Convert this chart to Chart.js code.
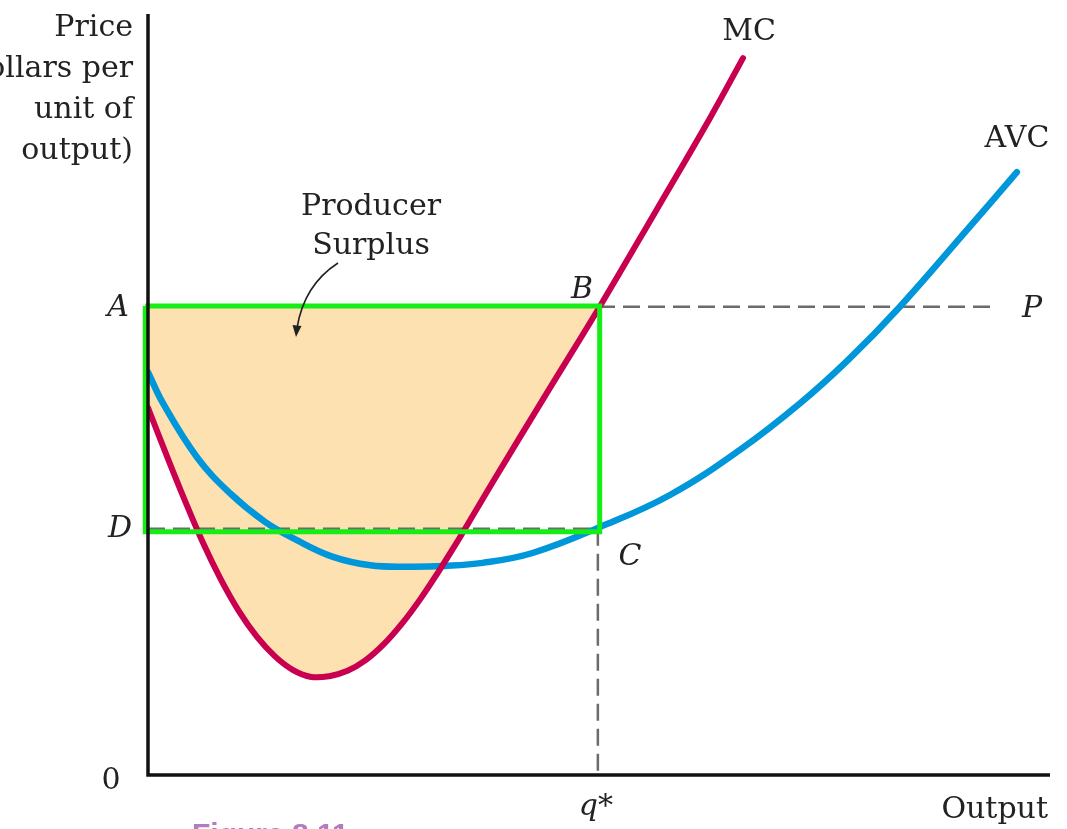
<!DOCTYPE html>
<html>
<head>
<meta charset="utf-8">
<script src="https://cdn.jsdelivr.net/npm/chart.js@4.4.0/dist/chart.umd.min.js"></script>
<style>
  body { margin: 0; background: #fff; }
  canvas { display: block; }
</style>
</head>
<body>
<canvas id="surplusChart" width="1067" height="829"></canvas>
<script>
// curve readings (output on x, price on y, both 0..100 scale)
const mcX = [0, 2, 4, 6, 8, 10, 12, 14, 16, 18, 20, 22, 24, 26, 28, 30, 32, 34, 36, 38, 44, 49.8, 56, 62, 65.6];
const mcY = [48.3, 42.2, 36.3, 30.7, 25.8, 21.6, 18.2, 15.6, 13.8, 12.9, 13.0, 13.7, 15.1, 17.2, 19.9, 23.1, 26.7, 30.5, 34.5, 38.5, 50.3, 61.6, 74.2, 86.5, 94.3];

const avcX = [0, 1.65, 5.4, 9.0, 12.9, 16.4, 20.4, 24.5, 28.6, 32.7, 36.9, 42.4, 49.8, 57.5, 65.3, 71.9, 77.2, 82.9, 90.3, 95.8];
const avcY = [53.0, 48.9, 41.8, 37.1, 33.3, 30.9, 28.7, 27.6, 27.4, 27.5, 27.9, 29.2, 32.6, 36.8, 42.8, 48.9, 54.6, 61.6, 71.7, 79.3];

const priceP = 61.6;     // A / B / P level
const priceD = 32.4;     // D / C level
const qStar = 49.6;      // q*
const pLineEnd = 93.6;

// green highlight box drawn over the figure
const boxX = [-0.3, 49.8];
const boxY = [61.7, 32.0];

const xMax = 99.45;
const yMax = 100.1;

const toPoints = (xs, ys) => xs.map((x, i) => ({ x: x, y: ys[i] }));

const mcPoints = toPoints(mcX, mcY);
const avcPoints = toPoints(avcX, avcY);
const surplusPoints = mcPoints.filter(p => p.x <= 49.8);

const serif = '"DejaVu Serif", "Liberation Serif", serif';

function drawText(ctx, text, x, y, opts) {
  ctx.save();
  ctx.font = (opts.style || '') + ' ' + (opts.size || 30) + 'px ' + (opts.family || serif);
  ctx.fillStyle = opts.color || '#222';
  ctx.textAlign = opts.align || 'center';
  ctx.textBaseline = opts.baseline || 'alphabetic';
  ctx.fillText(text, x, y);
  ctx.restore();
}

const figurePlugin = {
  id: 'figureDecor',
  afterDatasetsDraw(chart) {
    const ctx = chart.ctx;
    const xs = chart.scales.x;
    const ys = chart.scales.y;
    const x0 = xs.getPixelForValue(0);
    const y0 = ys.getPixelForValue(0);

    // axes
    ctx.save();
    ctx.strokeStyle = '#111';
    ctx.lineWidth = 3.5;
    ctx.beginPath();
    ctx.moveTo(x0, ys.getPixelForValue(yMax));
    ctx.lineTo(x0, y0);
    ctx.lineTo(xs.getPixelForValue(xMax), y0);
    ctx.stroke();
    ctx.restore();

    // axis title
    drawText(ctx, 'Price', 133, 36, { align: 'right' });
    drawText(ctx, '(dollars per', 133, 77, { align: 'right' });
    drawText(ctx, 'unit of', 133, 118, { align: 'right' });
    drawText(ctx, 'output)', 133, 159, { align: 'right' });
    drawText(ctx, 'Output', 1048, 818, { align: 'right' });
    drawText(ctx, '0', 111, 789, {});

    // point labels
    const pY = ys.getPixelForValue(priceP);
    const dY = ys.getPixelForValue(priceD);
    const qX = xs.getPixelForValue(qStar);
    drawText(ctx, 'A', 118, pY + 9, { style: 'italic' });
    drawText(ctx, 'D', 120, dY + 8, { style: 'italic' });
    drawText(ctx, 'B', 582, pY - 9, { style: 'italic' });
    drawText(ctx, 'P', 1032, pY + 10, { style: 'italic' });
    drawText(ctx, 'C', 630, dY + 36, { style: 'italic' });
    drawText(ctx, 'q*', qX - 2, 815, { style: 'italic' });

    // curve labels
    drawText(ctx, 'MC', 749, 40, {});
    drawText(ctx, 'AVC', 1017, 147, {});

    // producer surplus note with arrow
    drawText(ctx, 'Producer', 371, 215, {});
    drawText(ctx, 'Surplus', 371, 254, {});
    ctx.save();
    ctx.strokeStyle = '#222';
    ctx.lineWidth = 1.6;
    ctx.beginPath();
    ctx.moveTo(338, 263);
    ctx.quadraticCurveTo(304, 285, 297, 328);
    ctx.stroke();
    ctx.fillStyle = '#222';
    ctx.beginPath();
    ctx.moveTo(292.5, 325);
    ctx.lineTo(301.5, 326);
    ctx.lineTo(296, 337);
    ctx.closePath();
    ctx.fill();
    ctx.restore();

    // cut-off caption at the bottom
    drawText(ctx, 'Figure 8.11', 192, 821, {
      family: '"Liberation Sans", Arial, sans-serif', style: 'bold', size: 30,
      color: '#b27dc0', align: 'left', baseline: 'top'
    });
  }
};

const dashStyle = { borderColor: '#6b6b6b', borderWidth: 2.5, borderDash: [17, 8], pointRadius: 0, fill: false, tension: 0 };

new Chart(document.getElementById('surplusChart'), {
  type: 'line',
  data: {
    datasets: [
      {
        label: 'box',
        data: [
          { x: boxX[0], y: boxY[0] }, { x: boxX[1], y: boxY[0] },
          { x: boxX[1], y: boxY[1] }, { x: boxX[0], y: boxY[1] },
          { x: boxX[0], y: boxY[0] }
        ],
        borderColor: '#14ee14', borderWidth: 5, pointRadius: 0, fill: false, tension: 0,
        borderJoinStyle: 'miter', clip: false, order: 0
      },
      {
        label: 'MC',
        data: mcPoints,
        borderColor: '#c8004f', borderWidth: 6, pointRadius: 0, fill: false,
        tension: 0.4, borderCapStyle: 'round', order: 1
      },
      {
        label: 'AVC',
        data: avcPoints,
        borderColor: '#0096da', borderWidth: 6.5, pointRadius: 0, fill: false,
        tension: 0.4, borderCapStyle: 'round', order: 2
      },
      Object.assign({ label: 'P', data: [{ x: 0, y: priceP }, { x: pLineEnd, y: priceP }], order: 3 }, dashStyle),
      Object.assign({ label: 'D', data: [{ x: 0, y: priceD }, { x: qStar, y: priceD }], order: 3 }, dashStyle),
      Object.assign({ label: 'q', data: [{ x: qStar, y: priceD }, { x: qStar, y: 0 }], order: 3 }, dashStyle),
      {
        label: 'surplus',
        data: surplusPoints,
        borderWidth: 0, borderColor: 'rgba(0,0,0,0)', pointRadius: 0,
        backgroundColor: '#fde1b0',
        fill: { value: priceP },
        tension: 0.4, order: 4
      }
    ]
  },
  options: {
    responsive: false,
    animation: false,
    parsing: false,
    layout: { padding: { left: 148, right: 17, top: 14, bottom: 54 } },
    scales: {
      x: { type: 'linear', min: 0, max: xMax, display: false },
      y: { type: 'linear', min: 0, max: yMax, display: false }
    },
    plugins: {
      legend: { display: false },
      tooltip: { enabled: false }
    }
  },
  plugins: [figurePlugin]
});
</script>
</body>
</html>
